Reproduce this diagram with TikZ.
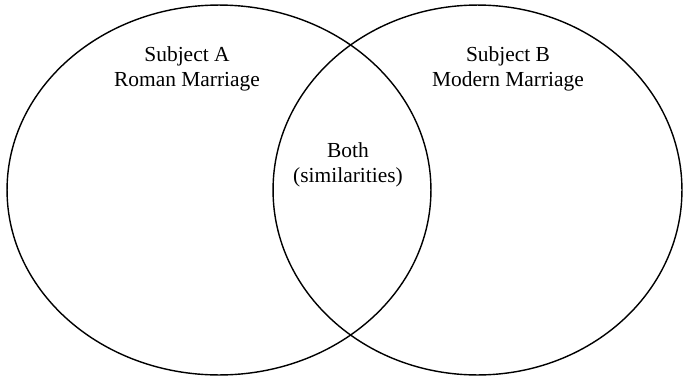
\documentclass[tikz,border=0pt]{standalone}
\usepackage{fontspec}
\setmainfont{Liberation Serif}
\usetikzlibrary{shapes.geometric}
\tikzset{
	setoval/.style={draw, ellipse, line width=0.8pt, inner sep=0pt},
	label text/.style={align=center, font=\fontsize{12.2}{14.2}\selectfont}
}

\begin{document}
\begin{tikzpicture}[x=0.02cm, y=-0.02cm]
		\useasboundingbox (0,0) rectangle (683,379);
		\node [setoval, minimum width=8.48cm, minimum height=7.4cm] (setA) at (219,190) {};
		\node [setoval, minimum width=8.18cm, minimum height=7.4cm] (setB) at (477.5,190) {};

		\node [label text] (nameA) at (187,69) {Subject A\\Roman Marriage};
		\node [label text] (nameB) at (508,69) {Subject B\\Modern Marriage};
		\node [label text] (both) at (348,164.5) {Both\\(similarities)};
	\end{tikzpicture}
\end{document}
